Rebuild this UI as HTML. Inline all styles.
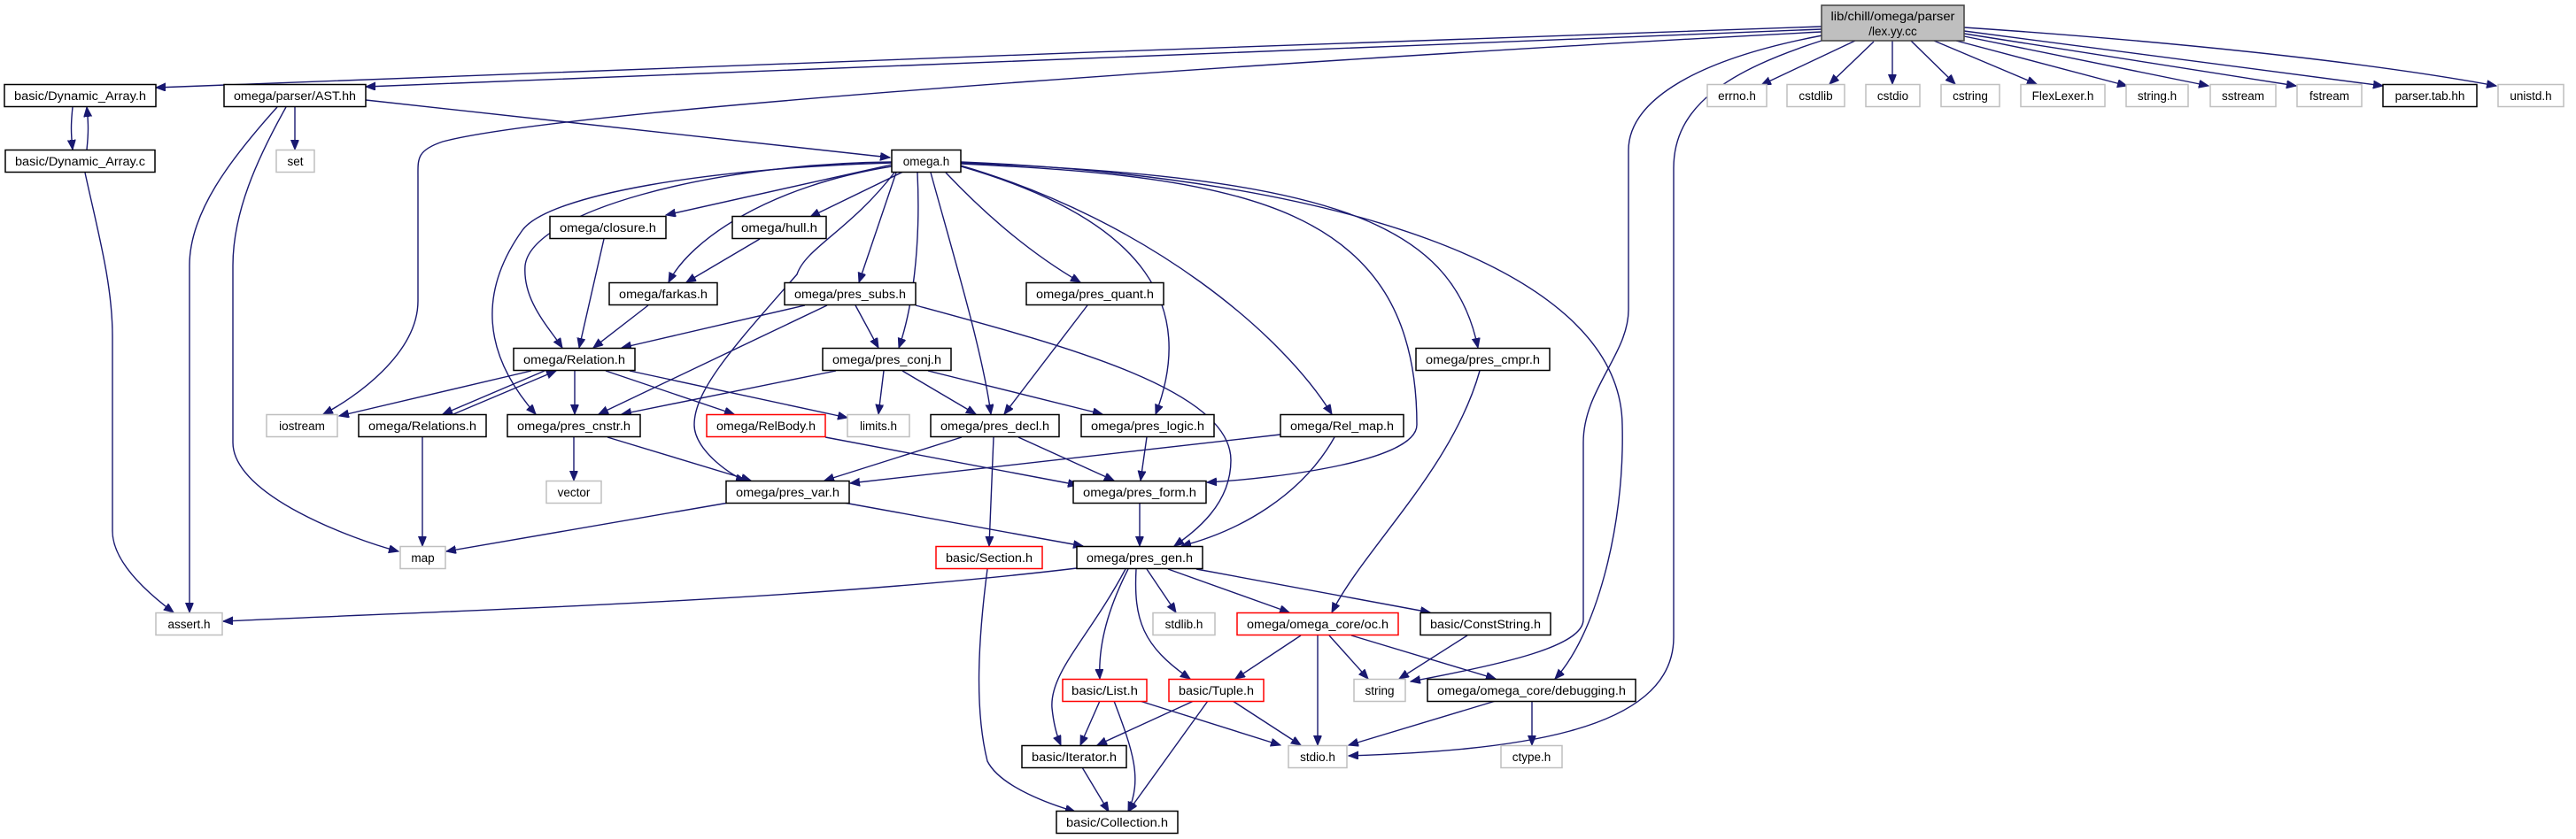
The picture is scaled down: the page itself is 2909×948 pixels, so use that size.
<!DOCTYPE html>
<html><head><meta charset="utf-8"><style>
html,body{margin:0;padding:0;background:#fff;}
svg{display:block;}
text{font-family:"Liberation Sans",sans-serif;font-size:13.5px;fill:#000;}
.e{fill:none;stroke:#191970;stroke-width:1.4;marker-end:url(#a);}
.b{fill:#fff;stroke:#000;stroke-width:1.5;}
.g{fill:#fff;stroke:#bfbfbf;stroke-width:1.5;}
.r{fill:#fff;stroke:#ff0000;stroke-width:1.5;}
</style></head><body>
<svg width="2909" height="948" viewBox="0 0 2909 948" xmlns="http://www.w3.org/2000/svg">
<defs><marker id="a" markerWidth="12" markerHeight="10" refX="11" refY="4.5" orient="auto" markerUnits="userSpaceOnUse"><path d="M0,0 L11,4.5 L0,9 z" fill="#191970" stroke="#191970"/></marker></defs>
<g>
<path class="e" d="M2057,30 C1500,50 600,80 176,99"/>
<path class="e" d="M2057,33 C1500,55 900,80 413,98"/>
<path class="e" d="M2057,36 C1600,60 650,120 500,160 C470,170 472,180 472,200 L472,340 C472,400 400,450 365,468"/>
<path class="e" d="M2058,40 C1900,70 1839,120 1839,170 L1839,350 C1839,400 1788,440 1788,500 L1788,700 C1788,730 1700,750 1593,770"/>
<path class="e" d="M2060,45 C1950,80 1890,120 1890,190 L1890,720 C1890,830 1700,848 1523,854"/>
<path class="e" d="M2095,46 L1989,96"/>
<path class="e" d="M2116,47 L2066,95"/>
<path class="e" d="M2137,46 L2137,95"/>
<path class="e" d="M2158,46 L2208,95"/>
<path class="e" d="M2184,46 L2300,95"/>
<path class="e" d="M2209,46 L2402,97"/>
<path class="e" d="M2218,41 L2494,97"/>
<path class="e" d="M2218,38 L2593,97"/>
<path class="e" d="M2218,35 L2691,97"/>
<path class="e" d="M2218,31 C2500,50 2700,75 2819,97"/>
<path class="e" d="M82,121 C80,140 80,150 82,169"/>
<path class="e" d="M98,169 C100,150 100,140 98,121"/>
<path class="e" d="M96,195 C110,260 127,320 127,380 L127,600 C127,640 180,680 196,692"/>
<path class="e" d="M333,121 L333,169"/>
<path class="e" d="M313,121 C260,180 214,240 214,300 L214,692"/>
<path class="e" d="M323,121 C290,180 263,240 263,300 L263,500 C263,560 400,610 450,623"/>
<path class="e" d="M413,113 L1005,178"/>
<path class="e" d="M1007,186 L752,243"/>
<path class="e" d="M1020,194 L915,245"/>
<path class="e" d="M1007,188 C870,210 780,270 755,319"/>
<path class="e" d="M1012,195 L970,319"/>
<path class="e" d="M1007,183 C800,185 600,240 593,300 C590,340 620,370 635,393"/>
<path class="e" d="M1007,184 C800,190 620,220 590,260 C540,330 545,400 605,468"/>
<path class="e" d="M1010,195 C960,260 910,280 900,310 C830,390 784,440 784,480 C784,510 830,540 842,543"/>
<path class="e" d="M1036,195 C1040,280 1030,350 1015,393"/>
<path class="e" d="M1051,195 C1080,300 1110,400 1119,468"/>
<path class="e" d="M1068,195 C1120,250 1170,290 1220,319"/>
<path class="e" d="M1085,188 C1300,250 1350,350 1305,468"/>
<path class="e" d="M1085,187 C1300,250 1450,380 1504,468"/>
<path class="e" d="M1085,185 C1400,200 1600,230 1600,480 C1600,520 1450,540 1363,545"/>
<path class="e" d="M1085,184 C1500,200 1640,250 1669,393"/>
<path class="e" d="M1085,183 C1500,200 1830,300 1832,480 C1835,600 1800,720 1756,767"/>
<path class="e" d="M1034,345 C1200,390 1390,440 1390,520 C1390,570 1350,600 1326,617"/>
<path class="e" d="M682,270 L654,393"/>
<path class="e" d="M858,270 L775,319"/>
<path class="e" d="M732,345 L670,393"/>
<path class="e" d="M909,345 L702,393"/>
<path class="e" d="M934,345 L676,468"/>
<path class="e" d="M966,345 L992,393"/>
<path class="e" d="M1228,345 L1134,468"/>
<path class="e" d="M600,419 L383,470"/>
<path class="e" d="M615,419 L500,468"/>
<path class="e" d="M512,468 L628,419"/>
<path class="e" d="M649,419 L649,468"/>
<path class="e" d="M684,419 L829,468"/>
<path class="e" d="M711,419 L957,472"/>
<path class="e" d="M944,419 L702,468"/>
<path class="e" d="M998,419 L992,468"/>
<path class="e" d="M1019,419 L1102,468"/>
<path class="e" d="M1048,419 L1245,468"/>
<path class="e" d="M477,494 L477,617"/>
<path class="e" d="M648,494 L648,543"/>
<path class="e" d="M686,494 L848,543"/>
<path class="e" d="M932,494 L1217,548"/>
<path class="e" d="M1086,494 L931,543"/>
<path class="e" d="M1150,494 L1258,543"/>
<path class="e" d="M1122,494 L1117,617"/>
<path class="e" d="M1295,494 L1288,543"/>
<path class="e" d="M1671,419 C1640,530 1540,620 1504,692"/>
<path class="e" d="M1446,491 L960,546"/>
<path class="e" d="M1507,494 C1470,560 1400,600 1334,617"/>
<path class="e" d="M823,568 L504,623"/>
<path class="e" d="M953,568 L1223,617"/>
<path class="e" d="M1287,568 L1287,617"/>
<path class="e" d="M1216,642 C900,680 500,690 252,702"/>
<path class="e" d="M1295,643 L1328,692"/>
<path class="e" d="M1319,643 L1456,692"/>
<path class="e" d="M1351,643 L1615,692"/>
<path class="e" d="M1274,643 C1250,690 1240,730 1242,767"/>
<path class="e" d="M1283,643 C1280,700 1290,730 1344,767"/>
<path class="e" d="M1271,643 C1230,720 1185,760 1188,800 C1190,820 1195,835 1198,842"/>
<path class="e" d="M1115,643 C1105,720 1100,800 1115,860 C1130,890 1190,910 1214,917"/>
<path class="e" d="M1469,718 L1395,767"/>
<path class="e" d="M1488,718 L1488,842"/>
<path class="e" d="M1501,718 L1545,767"/>
<path class="e" d="M1526,718 L1689,767"/>
<path class="e" d="M1657,718 L1580,767"/>
<path class="e" d="M1242,792 L1220,842"/>
<path class="e" d="M1258,792 C1280,850 1290,880 1274,917"/>
<path class="e" d="M1287,792 L1446,842"/>
<path class="e" d="M1348,792 L1239,842"/>
<path class="e" d="M1364,792 L1274,917"/>
<path class="e" d="M1392,792 L1469,842"/>
<path class="e" d="M1689,792 L1523,842"/>
<path class="e" d="M1730,792 L1730,842"/>
<path class="e" d="M1222,867 L1252,917"/>
</g>
<g>
<rect x="2057" y="6" width="161" height="40" fill="#bfbfbf" stroke="#404040" stroke-width="1.5"/>
<text x="2137.5" y="23" text-anchor="middle" textLength="140" lengthAdjust="spacingAndGlyphs">lib/chill/omega/parser</text>
<text x="2137.5" y="40" text-anchor="middle">/lex.yy.cc</text>
</g>
<g id="nodes"></g>
<!-- nodes -->
<rect class="b" x="5" y="95.5" width="171" height="25"/><text x="90.5" y="113" text-anchor="middle" textLength="149" lengthAdjust="spacingAndGlyphs">basic/Dynamic_Array.h</text>
<rect class="b" x="253" y="95.5" width="160" height="25"/><text x="333" y="113" text-anchor="middle" textLength="138" lengthAdjust="spacingAndGlyphs">omega/parser/AST.hh</text>
<rect class="g" x="1928" y="95.5" width="67" height="25"/><text x="1961.5" y="113" text-anchor="middle">errno.h</text>
<rect class="g" x="2018" y="95.5" width="65" height="25"/><text x="2050.5" y="113" text-anchor="middle">cstdlib</text>
<rect class="g" x="2107" y="95.5" width="61" height="25"/><text x="2137.5" y="113" text-anchor="middle">cstdio</text>
<rect class="g" x="2192" y="95.5" width="66" height="25"/><text x="2225" y="113" text-anchor="middle">cstring</text>
<rect class="g" x="2282" y="95.5" width="95" height="25"/><text x="2329.5" y="113" text-anchor="middle">FlexLexer.h</text>
<rect class="g" x="2401" y="95.5" width="70" height="25"/><text x="2436" y="113" text-anchor="middle">string.h</text>
<rect class="g" x="2496" y="95.5" width="74" height="25"/><text x="2533" y="113" text-anchor="middle">sstream</text>
<rect class="g" x="2594" y="95.5" width="73" height="25"/><text x="2630.5" y="113" text-anchor="middle">fstream</text>
<rect class="b" x="2691" y="95.5" width="106" height="25"/><text x="2744" y="113" text-anchor="middle">parser.tab.hh</text>
<rect class="g" x="2821" y="95.5" width="74" height="25"/><text x="2858" y="113" text-anchor="middle">unistd.h</text>
<rect class="b" x="6" y="169.5" width="169" height="25"/><text x="90.5" y="187" text-anchor="middle" textLength="147" lengthAdjust="spacingAndGlyphs">basic/Dynamic_Array.c</text>
<rect class="g" x="312" y="169.5" width="43" height="25"/><text x="333.5" y="187" text-anchor="middle">set</text>
<rect class="b" x="1007" y="169.5" width="78" height="25"/><text x="1046" y="187" text-anchor="middle">omega.h</text>
<rect class="b" x="621" y="244.5" width="131" height="25"/><text x="686.5" y="262" text-anchor="middle" textLength="109" lengthAdjust="spacingAndGlyphs">omega/closure.h</text>
<rect class="b" x="827" y="244.5" width="106" height="25"/><text x="880" y="262" text-anchor="middle" textLength="86" lengthAdjust="spacingAndGlyphs">omega/hull.h</text>
<rect class="b" x="688" y="319.5" width="122" height="25"/><text x="749" y="337" text-anchor="middle" textLength="100" lengthAdjust="spacingAndGlyphs">omega/farkas.h</text>
<rect class="b" x="886" y="319.5" width="148" height="25"/><text x="960" y="337" text-anchor="middle" textLength="126" lengthAdjust="spacingAndGlyphs">omega/pres_subs.h</text>
<rect class="b" x="1159" y="319.5" width="155" height="25"/><text x="1236.5" y="337" text-anchor="middle" textLength="133" lengthAdjust="spacingAndGlyphs">omega/pres_quant.h</text>
<rect class="b" x="580" y="393.5" width="137" height="25"/><text x="648.5" y="411" text-anchor="middle" textLength="115" lengthAdjust="spacingAndGlyphs">omega/Relation.h</text>
<rect class="b" x="929" y="393.5" width="145" height="25"/><text x="1001.5" y="411" text-anchor="middle" textLength="123" lengthAdjust="spacingAndGlyphs">omega/pres_conj.h</text>
<rect class="b" x="1599" y="393.5" width="151" height="25"/><text x="1674.5" y="411" text-anchor="middle" textLength="129" lengthAdjust="spacingAndGlyphs">omega/pres_cmpr.h</text>
<rect class="g" x="301" y="468.5" width="80" height="25"/><text x="341" y="486" text-anchor="middle">iostream</text>
<rect class="b" x="405" y="468.5" width="144" height="25"/><text x="477" y="486" text-anchor="middle" textLength="122" lengthAdjust="spacingAndGlyphs">omega/Relations.h</text>
<rect class="b" x="573" y="468.5" width="150" height="25"/><text x="648" y="486" text-anchor="middle" textLength="128" lengthAdjust="spacingAndGlyphs">omega/pres_cnstr.h</text>
<rect class="r" x="798" y="468.5" width="134" height="25"/><text x="865" y="486" text-anchor="middle" textLength="112" lengthAdjust="spacingAndGlyphs">omega/RelBody.h</text>
<rect class="g" x="957" y="468.5" width="70" height="25"/><text x="992" y="486" text-anchor="middle">limits.h</text>
<rect class="b" x="1051" y="468.5" width="145" height="25"/><text x="1123.5" y="486" text-anchor="middle" textLength="123" lengthAdjust="spacingAndGlyphs">omega/pres_decl.h</text>
<rect class="b" x="1221" y="468.5" width="150" height="25"/><text x="1296" y="486" text-anchor="middle" textLength="128" lengthAdjust="spacingAndGlyphs">omega/pres_logic.h</text>
<rect class="b" x="1446" y="468.5" width="139" height="25"/><text x="1515.5" y="486" text-anchor="middle" textLength="117" lengthAdjust="spacingAndGlyphs">omega/Rel_map.h</text>
<rect class="g" x="617" y="543.5" width="62" height="25"/><text x="648" y="561" text-anchor="middle">vector</text>
<rect class="b" x="820" y="543.5" width="139" height="25"/><text x="889.5" y="561" text-anchor="middle" textLength="117" lengthAdjust="spacingAndGlyphs">omega/pres_var.h</text>
<rect class="b" x="1212" y="543.5" width="150" height="25"/><text x="1287" y="561" text-anchor="middle" textLength="128" lengthAdjust="spacingAndGlyphs">omega/pres_form.h</text>
<rect class="g" x="452" y="617.5" width="51" height="25"/><text x="477.5" y="635" text-anchor="middle">map</text>
<rect class="r" x="1057" y="617.5" width="120" height="25"/><text x="1117" y="635" text-anchor="middle" textLength="98" lengthAdjust="spacingAndGlyphs">basic/Section.h</text>
<rect class="b" x="1216" y="617.5" width="142" height="25"/><text x="1287" y="635" text-anchor="middle" textLength="120" lengthAdjust="spacingAndGlyphs">omega/pres_gen.h</text>
<rect class="g" x="176" y="692.5" width="75" height="25"/><text x="213.5" y="710" text-anchor="middle">assert.h</text>
<rect class="g" x="1302" y="692.5" width="70" height="25"/><text x="1337" y="710" text-anchor="middle">stdlib.h</text>
<rect class="r" x="1397" y="692.5" width="182" height="25"/><text x="1488" y="710" text-anchor="middle" textLength="160" lengthAdjust="spacingAndGlyphs">omega/omega_core/oc.h</text>
<rect class="b" x="1604" y="692.5" width="147" height="25"/><text x="1677.5" y="710" text-anchor="middle" textLength="125" lengthAdjust="spacingAndGlyphs">basic/ConstString.h</text>
<rect class="r" x="1200" y="767.5" width="95" height="25"/><text x="1247.5" y="785" text-anchor="middle" textLength="75" lengthAdjust="spacingAndGlyphs">basic/List.h</text>
<rect class="r" x="1320" y="767.5" width="107" height="25"/><text x="1373.5" y="785" text-anchor="middle" textLength="85" lengthAdjust="spacingAndGlyphs">basic/Tuple.h</text>
<rect class="g" x="1529" y="767.5" width="58" height="25"/><text x="1558" y="785" text-anchor="middle">string</text>
<rect class="b" x="1612" y="767.5" width="235" height="25"/><text x="1729.5" y="785" text-anchor="middle" textLength="213" lengthAdjust="spacingAndGlyphs">omega/omega_core/debugging.h</text>
<rect class="b" x="1154" y="842.5" width="118" height="25"/><text x="1213" y="860" text-anchor="middle" textLength="96" lengthAdjust="spacingAndGlyphs">basic/Iterator.h</text>
<rect class="g" x="1455" y="842.5" width="66" height="25"/><text x="1488" y="860" text-anchor="middle">stdio.h</text>
<rect class="g" x="1695" y="842.5" width="69" height="25"/><text x="1729.5" y="860" text-anchor="middle">ctype.h</text>
<rect class="b" x="1193" y="916.5" width="137" height="25"/><text x="1261.5" y="934" text-anchor="middle" textLength="115" lengthAdjust="spacingAndGlyphs">basic/Collection.h</text>
</svg>
</body></html>
